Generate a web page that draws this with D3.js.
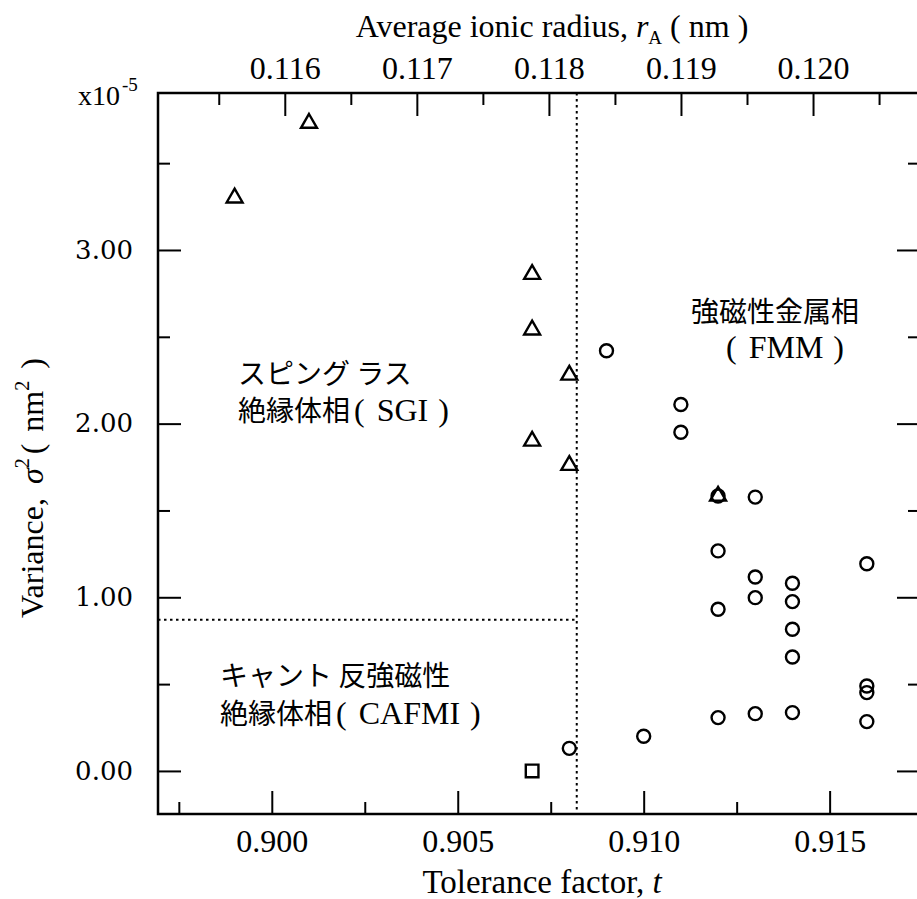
<!DOCTYPE html>
<html>
<head>
<meta charset="utf-8">
<script src="https://cdn.jsdelivr.net/npm/d3@7"></script>
<style>
  html, body { margin: 0; padding: 0; background: #fff; }
  svg { display: block; }
  .serif { font-family: "Liberation Serif", "Times New Roman", serif; }
  .cjk { font-family: "Noto Sans CJK JP", sans-serif; }
</style>
</head>
<body>
<script>
// Tolerance factor t vs. A-site variance sigma^2 (x10^-5 nm^2), with phase regions

// Circles: ferromagnetic metal samples (plus low-variance ones)
const circleT   = [0.908, 0.909, 0.910, 0.911, 0.911, 0.912, 0.912, 0.912, 0.912, 0.913, 0.913, 0.913, 0.913, 0.914, 0.914, 0.914, 0.914, 0.914, 0.916, 0.916, 0.916, 0.916];
const circleVar = [0.13, 2.42, 0.20, 2.11, 1.95, 1.583, 1.267, 0.931, 0.307, 1.577, 1.117, 0.998, 0.330, 1.081, 0.975, 0.816, 0.656, 0.336, 1.193, 0.489, 0.451, 0.284];
// Triangles: spin-glass insulator samples
const triangleT   = [0.899, 0.901, 0.907, 0.907, 0.907, 0.908, 0.908, 0.912];
const triangleVar = [3.30, 3.73, 2.86, 2.54, 1.90, 2.28, 1.76, 1.583];
// Square: canted AFM insulator sample
const squareT   = [0.907];
const squareVar = [0.00];

// Tick values
const tMajorTicks   = [0.900, 0.905, 0.910, 0.915];
const tMinorTicks   = [0.8975, 0.9025, 0.9075, 0.9125, 0.9175];
const rMajorTicks   = [0.116, 0.117, 0.118, 0.119, 0.120];
const rMinorTicks   = [0.1155, 0.1165, 0.1175, 0.1185, 0.1195, 0.1205];
const varMajorTicks = [0, 1, 2, 3];
const varMinorTicks = [0.5, 1.5, 2.5, 3.5];

// Phase boundaries
const tBoundary   = 0.9082;
const varBoundary = 0.87;

const W = 917, H = 899;
const L = 158, R = 920, T = 93, B = 814;

const svg = d3.select("body").append("svg")
  .attr("width", W).attr("height", H)
  .attr("viewBox", `0 0 ${W} ${H}`);

svg.append("rect").attr("width", W).attr("height", H).attr("fill", "#fff");

const x  = d3.scaleLinear().domain([0.89694, 0.91743]).range([L, R]);
const xr = d3.scaleLinear().domain([0.11504, 0.12081]).range([L, R]);
const y  = d3.scaleLinear().domain([-0.248, 3.904]).range([B, T]);

const MAJ = 23, MIN = 12;

function styleAxis(g) {
  g.select(".domain").remove();
  g.selectAll(".tick line").attr("stroke", "#000").attr("stroke-width", 2);
}

// Bottom axis (tolerance factor)
svg.append("g").attr("transform", `translate(0,${B})`)
  .call(d3.axisBottom(x).tickValues(tMajorTicks).tickSize(-MAJ).tickPadding(15).tickFormat(d3.format(".3f")))
  .call(styleAxis)
  .call(g => g.selectAll("text").attr("class", "serif").attr("font-size", 32).attr("fill", "#000"));
svg.append("g").attr("transform", `translate(0,${B})`)
  .call(d3.axisBottom(x).tickValues(tMinorTicks).tickSize(-MIN).tickFormat(""))
  .call(styleAxis);

// Top axis (average ionic radius)
svg.append("g").attr("transform", `translate(0,${T})`)
  .call(d3.axisTop(xr).tickValues(rMajorTicks).tickSize(-MAJ).tickPadding(14).tickFormat(d3.format(".3f")))
  .call(styleAxis)
  .call(g => g.selectAll("text").attr("class", "serif").attr("font-size", 32).attr("fill", "#000"));
svg.append("g").attr("transform", `translate(0,${T})`)
  .call(d3.axisTop(xr).tickValues(rMinorTicks).tickSize(-MIN).tickFormat(""))
  .call(styleAxis);

// Left axis (variance)
svg.append("g").attr("transform", `translate(${L},0)`)
  .call(d3.axisLeft(y).tickValues(varMajorTicks).tickSize(-MAJ).tickPadding(25).tickFormat(d3.format(".2f")))
  .call(styleAxis)
  .call(g => g.selectAll("text").attr("font-family", "DejaVu Serif").attr("font-size", 26).attr("fill", "#000"));
svg.append("g").attr("transform", `translate(${L},0)`)
  .call(d3.axisLeft(y).tickValues(varMinorTicks).tickSize(-MIN).tickFormat(""))
  .call(styleAxis);

// Right axis (ticks only)
svg.append("g").attr("transform", `translate(${R},0)`)
  .call(d3.axisRight(y).tickValues(varMajorTicks).tickSize(-MAJ).tickFormat(""))
  .call(styleAxis);
svg.append("g").attr("transform", `translate(${R},0)`)
  .call(d3.axisRight(y).tickValues(varMinorTicks).tickSize(-MIN).tickFormat(""))
  .call(styleAxis);

// Frame
svg.append("rect")
  .attr("x", L).attr("y", T).attr("width", R - L).attr("height", B - T)
  .attr("fill", "none").attr("stroke", "#000").attr("stroke-width", 2.5);

// Phase boundaries (dotted)
svg.append("line")
  .attr("x1", x(tBoundary)).attr("x2", x(tBoundary))
  .attr("y1", T).attr("y2", B)
  .attr("stroke", "#000").attr("stroke-width", 2).attr("stroke-dasharray", "2.5,3.5");
svg.append("line")
  .attr("x1", L).attr("x2", x(tBoundary))
  .attr("y1", y(varBoundary)).attr("y2", y(varBoundary))
  .attr("stroke", "#000").attr("stroke-width", 2).attr("stroke-dasharray", "2.5,3.5");

// Markers
const marks = svg.append("g").attr("fill", "none").attr("stroke", "#000").attr("stroke-width", 2.4);

marks.selectAll("circle.fmm")
  .data(d3.zip(circleT, circleVar))
  .join("circle").attr("class", "fmm")
  .attr("cx", d => x(d[0])).attr("cy", d => y(d[1])).attr("r", 6.5);

const tri = d3.symbol().type(d3.symbolTriangle).size(110);
marks.selectAll("path.sgi")
  .data(d3.zip(triangleT, triangleVar))
  .join("path").attr("class", "sgi")
  .attr("d", tri)
  .attr("transform", d => `translate(${x(d[0])},${y(d[1])})`);

const sq = d3.symbol().type(d3.symbolSquare).size(160);
marks.selectAll("path.cafmi")
  .data(d3.zip(squareT, squareVar))
  .join("path").attr("class", "cafmi")
  .attr("d", sq)
  .attr("transform", d => `translate(${x(d[0])},${y(d[1])})`);

// Axis titles
const topTitle = svg.append("text").attr("class", "serif").attr("font-size", 32)
  .attr("x", 552).attr("y", 37).attr("text-anchor", "middle");
topTitle.append("tspan").text("Average ionic radius, ");
topTitle.append("tspan").attr("font-style", "italic").text("r");
topTitle.append("tspan").attr("font-size", 19).attr("dy", 7).text("A");
topTitle.append("tspan").attr("dy", -7).text(" ( nm )");

const bottomTitle = svg.append("text").attr("class", "serif").attr("font-size", 33)
  .attr("x", 542).attr("y", 893).attr("text-anchor", "middle");
bottomTitle.append("tspan").text("Tolerance factor, ");
bottomTitle.append("tspan").attr("font-style", "italic").text("t");

// Vertical title, read bottom to top
const leftTitle = svg.append("text").attr("class", "serif").attr("font-size", 32)
  .attr("transform", "translate(43,618) rotate(-90)");
leftTitle.append("tspan").text("Variance,");
leftTitle.append("tspan").attr("dx", 14).attr("font-style", "italic").text("σ");
leftTitle.append("tspan").attr("font-size", 20).attr("dy", -14).text("2");
leftTitle.append("tspan").attr("dx", 4).attr("dy", 14).text("(");
leftTitle.append("tspan").attr("dx", 12).text("nm");
leftTitle.append("tspan").attr("font-size", 20).attr("dy", -14).text("2");
leftTitle.append("tspan").attr("dx", 12).attr("dy", 14).text(")");

const mult = svg.append("text").attr("class", "serif").attr("font-size", 28)
  .attr("x", 78).attr("y", 105);
mult.append("tspan").text("x10");
mult.append("tspan").attr("font-size", 19).attr("dx", 2).attr("dy", -14).text("-5");

// Phase labels: Japanese name, then the abbreviation in parentheses
function phaseLabel(xp, yp, cjk, abbr) {
  const t = svg.append("text").attr("x", xp).attr("y", yp);
  if (cjk) t.append("tspan").attr("class", "cjk").attr("font-size", 28).text(cjk);
  if (abbr) {
    t.append("tspan").attr("class", "serif").attr("font-size", 32).attr("dx", cjk ? 4 : 0).text("(");
    t.append("tspan").attr("class", "serif").attr("font-size", 32).attr("dx", 12).text(abbr);
    t.append("tspan").attr("class", "serif").attr("font-size", 32).attr("dx", 10).text(")");
  }
  return t;
}
phaseLabel(238, 384, "スピング ラス");
phaseLabel(238, 421, "絶縁体相", "SGI");
phaseLabel(220, 686, "キャント 反強磁性");
phaseLabel(220, 724, "絶縁体相", "CAFMI");
phaseLabel(691, 322, "強磁性金属相");
phaseLabel(726, 358, "", "FMM");
</script>
</body>
</html>
